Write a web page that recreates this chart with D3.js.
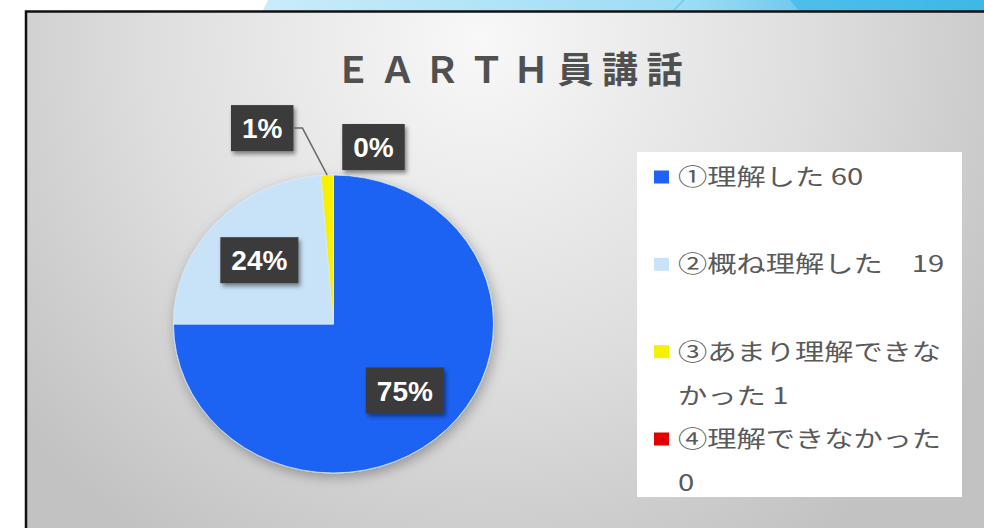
<!DOCTYPE html>
<html>
<head>
<meta charset="utf-8">
<script src="https://cdn.jsdelivr.net/npm/d3@7"></script>
<style>
  html, body { margin: 0; padding: 0; background: #fff; }
  svg { display: block; }
</style>
</head>
<body>
<svg id="chart" width="984" height="528"></svg>
<script>
// data
const categories = ['①理解した', '②概ね理解した', '③あまり理解できなかった', '④理解できなかった'];
const counts = [60, 19, 1, 0];
const legendGaps = [' ', '　', ' ', ' '];
const colors = ['#1f63f4', '#c8e2f8', '#f8f000', '#e00000'];
const titleText = 'ＥＡＲＴＨ員講話';

const width = 984;
const height = 528;
const svg = d3.select('#chart');
const defs = svg.append('defs');

// slide background + decoration on top
const rg = defs.append('radialGradient').attr('id', 'bg')
    .attr('gradientUnits', 'userSpaceOnUse')
    .attr('cx', 480).attr('cy', 40).attr('r', 600);
rg.append('stop').attr('offset', 0).attr('stop-color', '#f8f8f8');
rg.append('stop').attr('offset', 0.55).attr('stop-color', '#dedede');
rg.append('stop').attr('offset', 1).attr('stop-color', '#c2c2c2');

const lg = defs.append('linearGradient').attr('id', 'deco').attr('x1', 0).attr('x2', 1);
lg.append('stop').attr('offset', 0).attr('stop-color', '#c9ecfa');
lg.append('stop').attr('offset', 0.6).attr('stop-color', '#9bdcf5');
lg.append('stop').attr('offset', 1).attr('stop-color', '#22a9e1');

svg.append('polygon')
    .attr('points', '268,0 984,0 984,12 262,12')
    .attr('fill', 'url(#deco)');
svg.append('polygon')
    .attr('points', '790,0 984,0 984,12 800,12')
    .attr('fill', '#45bbe8').attr('opacity', 0.8);
svg.append('line')
    .attr('x1', 672).attr('y1', 12).attr('x2', 684).attr('y2', 0)
    .attr('stroke', '#6fc9ee').attr('stroke-width', 1.5);

svg.append('rect')
    .attr('x', 26).attr('y', 12).attr('width', width - 26).attr('height', height - 12)
    .attr('fill', 'url(#bg)');
svg.append('path')
    .attr('d', `M26,${height} V11.5 H${width}`)
    .attr('fill', 'none').attr('stroke', '#111').attr('stroke-width', 2.5);

// filters
defs.append('filter').attr('id', 'pieShadow')
    .attr('x', '-20%').attr('y', '-20%').attr('width', '140%').attr('height', '140%')
    .append('feDropShadow')
    .attr('dx', 2).attr('dy', 4).attr('stdDeviation', 6)
    .attr('flood-color', '#000').attr('flood-opacity', 0.3);
defs.append('filter').attr('id', 'boxShadow')
    .attr('x', '-30%').attr('y', '-30%').attr('width', '160%').attr('height', '160%')
    .append('feDropShadow')
    .attr('dx', 2).attr('dy', 3).attr('stdDeviation', 2)
    .attr('flood-color', '#000').attr('flood-opacity', 0.45);

// title
svg.append('text')
    .attr('x', 513).attr('y', 83)
    .attr('text-anchor', 'middle')
    .attr('font-family', '"Noto Sans CJK JP", sans-serif')
    .attr('font-size', 36)
    .attr('font-weight', 700)
    .attr('letter-spacing', 8.5)
    .attr('fill', '#505050')
    .text(titleText);

// pie
const cx = 333.5, cy = 324, radius = 149, sx = 1.074;
const total = d3.sum(counts);
const pct = d3.format('.0%');
const pie = d3.pie().sort(null).value(d => d);
const arcs = pie(counts);
const arc = d3.arc().innerRadius(0).outerRadius(radius);
const arcLabel = d3.arc().innerRadius(94).outerRadius(94);
const arcOuter = d3.arc().innerRadius(radius).outerRadius(radius);

svg.append('g')
    .attr('transform', `translate(${cx},${cy}) scale(${sx},1)`)
    .attr('filter', 'url(#pieShadow)')
    .selectAll('path')
    .data(arcs)
    .join('path')
    .attr('fill', (d, i) => colors[i])
    .attr('stroke', '#d6ebfc')
    .attr('stroke-width', 0.8)
    .attr('d', arc);

// data labels; thin slices go outside, Excel style
const smallOffsets = { 2: [-65, -47], 3: [40, -28] };
const labels = arcs.map((d, i) => {
    let p;
    if (d.endAngle - d.startAngle > 0.3) {
        const c = arcLabel.centroid(d);
        p = [cx + c[0] * sx, cy + c[1]];
    } else {
        const o = arcOuter.centroid(d);
        const off = smallOffsets[i];
        p = [cx + o[0] * sx + off[0], cy + o[1] + off[1]];
    }
    const o = arcOuter.centroid(d);
    return { i, x: p[0], y: p[1], text: pct(counts[i] / total), anchor: [cx + o[0] * sx, cy + o[1]] };
});

const lab = svg.append('g')
    .attr('font-family', '"Liberation Sans", Arial, sans-serif')
    .attr('font-size', 28)
    .attr('font-weight', 700)
    .selectAll('g')
    .data(labels)
    .join('g')
    .attr('transform', d => `translate(${d.x},${d.y})`);

const txt = lab.append('text')
    .attr('text-anchor', 'middle')
    .attr('dy', '0.36em')
    .attr('fill', '#fff')
    .text(d => d.text);

txt.each(function(d) { d.w = this.getComputedTextLength() + 22; });

lab.insert('rect', 'text')
    .attr('x', d => -d.w / 2)
    .attr('y', -23)
    .attr('width', d => d.w)
    .attr('height', 46)
    .attr('fill', '#3a3a3a')
    .attr('filter', 'url(#boxShadow)');

// leader line for the 1% slice
labels.filter(d => d.i === 2).forEach(d => {
    const x0 = d.x + d.w / 2;
    svg.append('polyline')
        .attr('points', `${x0},${d.y} ${x0 + 9},${d.y} ${d.anchor[0]},${d.anchor[1]}`)
        .attr('fill', 'none')
        .attr('stroke', '#6a6a6a')
        .attr('stroke-width', 1.5);
});

// legend
const legend = svg.append('g');
legend.append('rect')
    .attr('x', 637).attr('y', 152).attr('width', 325).attr('height', 345)
    .attr('fill', '#fff');

const rowY = d3.scalePoint().domain(d3.range(categories.length)).range([177, 439]);
const textScale = 1.3;
const maxLine = (960 - 678) / textScale;

const items = legend.selectAll('g.item')
    .data(categories)
    .join('g')
    .attr('class', 'item')
    .attr('transform', (d, i) => `translate(0,${rowY(i)})`);

items.append('rect')
    .attr('x', 654).attr('y', -6.5)
    .attr('width', 15).attr('height', 13)
    .attr('fill', (d, i) => colors[i]);

items.append('text')
    .attr('transform', `translate(678,0) scale(${textScale},1)`)
    .attr('font-family', '"Noto Sans CJK JP", sans-serif')
    .attr('font-size', 22.5)
    .attr('fill', '#595959')
    .attr('xml:space', 'preserve')
    .each(function(d, i) {
        const full = d + legendGaps[i] + counts[i];
        const t = d3.select(this);
        const probe = t.append('tspan').attr('x', 0).attr('dy', '0.35em');
        const lines = [];
        let cur = '';
        for (const ch of full) {
            probe.text(cur + ch);
            if (probe.node().getComputedTextLength() > maxLine && cur) {
                lines.push(cur);
                cur = ch.trim() ? ch : '';
            } else {
                cur += ch;
            }
        }
        lines.push(cur);
        probe.remove();
        lines.forEach((l, k) => {
            t.append('tspan')
                .attr('x', 0)
                .attr('y', k * 44)
                .attr('dy', '0.35em')
                .text(l);
        });
    });
</script>
</body>
</html>
